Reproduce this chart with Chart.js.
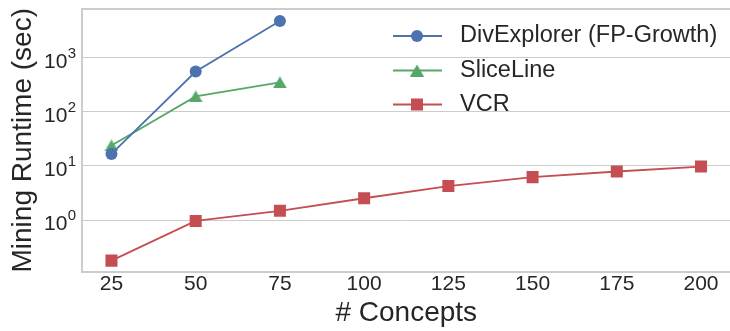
<!DOCTYPE html>
<html><head><meta charset="utf-8">
<script src="https://cdn.jsdelivr.net/npm/chart.js@4"></script>
<style>html,body{margin:0;padding:0;background:#fff;overflow:hidden;width:730px;height:331px}canvas{display:block}</style>
</head><body>
<canvas id="c" width="739" height="331"></canvas>
<script>
const concepts = [25, 50, 75, 100, 125, 150, 175, 200];
const xTicks = [25, 50, 75, 100, 125, 150, 175, 200];
const yTickPowers = [0, 1, 2, 3];
const seriesNames = ['DivExplorer (FP-Growth)', 'SliceLine', 'VCR'];
const divExplorer = [16.7, 561, 4830];
const sliceLine = [24.0, 194, 353];
const vcr = [0.177, 0.96, 1.48, 2.53, 4.25, 6.22, 7.91, 9.77];
const xLabel = '# Concepts';
const yLabel = 'Mining Runtime (sec)';

const FONT = "'Liberation Sans', Arial, sans-serif";
const TEXT = '#262626';
const GRID = '#cccccc';
const BLUE = '#4C72B0', GREEN = '#55A868', RED = '#C44E52';

function triangleImage(color) {
  const cv = document.createElement('canvas');
  cv.width = 14; cv.height = 12;
  const c = cv.getContext('2d');
  c.fillStyle = color;
  c.beginPath(); c.moveTo(7, 0); c.lineTo(14, 12); c.lineTo(0, 12); c.closePath(); c.fill();
  return cv;
}
const tri = triangleImage(GREEN);

function pts(vals) { return vals.map((v, i) => ({ x: concepts[i], y: v })); }

const yTickLabels = {
  id: 'yTickLabels',
  afterDraw(chart) {
    const s = chart.scales.y, ctx = chart.ctx;
    ctx.save();
    ctx.fillStyle = TEXT; ctx.textBaseline = 'alphabetic'; ctx.textAlign = 'right';
    yTickPowers.forEach(p => {
      const y = s.getPixelForValue(Math.pow(10, p));
      ctx.font = '15px ' + FONT;
      const e = String(p);
      const ew = ctx.measureText(e).width;
      ctx.fillText(e, 76, y - 0.3);
      ctx.font = '21px ' + FONT;
      ctx.fillText('10', 76 - ew - 0.3, y + 9.8);
    });
    ctx.restore();
  }
};

const lineLegend = {
  id: 'lineLegend',
  afterDraw(chart) {
    const ctx = chart.ctx;
    const rows = [36, 70.5, 104.5];
    chart.data.datasets.forEach((ds, i) => {
      const y = rows[i];
      ctx.save();
      ctx.strokeStyle = ds.borderColor; ctx.lineWidth = ds.borderWidth;
      ctx.beginPath(); ctx.moveTo(393, y); ctx.lineTo(442, y); ctx.stroke();
      ctx.fillStyle = ds.pointBackgroundColor;
      Chart.helpers.drawPoint(ctx, { pointStyle: ds.pointStyle, radius: ds.pointRadius, borderWidth: 0, rotation: 0 }, 417, y);
      ctx.fillStyle = TEXT; ctx.font = '23.5px ' + FONT;
      ctx.textAlign = 'left'; ctx.textBaseline = 'middle';
      ctx.fillText(ds.label, 460, y);
      ctx.restore();
    });
  }
};

new Chart(document.getElementById('c'), {
  type: 'line',
  data: {
    datasets: [
      { label: seriesNames[0], data: pts(divExplorer), borderColor: BLUE, backgroundColor: BLUE, pointBackgroundColor: BLUE, pointBorderWidth: 0, pointStyle: 'circle', pointRadius: 6, borderWidth: 1.8 },
      { label: seriesNames[1], data: pts(sliceLine), borderColor: GREEN, backgroundColor: GREEN, pointBackgroundColor: GREEN, pointBorderWidth: 0, pointStyle: tri, pointRadius: 7, borderWidth: 1.8 },
      { label: seriesNames[2], data: pts(vcr), borderColor: RED, backgroundColor: RED, pointBackgroundColor: RED, pointBorderWidth: 0, pointStyle: 'rect', pointRadius: 8.5, borderWidth: 1.8 }
    ]
  },
  options: {
    responsive: false, animation: false, devicePixelRatio: 1,
    layout: { padding: 0 },
    plugins: { legend: { display: false }, tooltip: { enabled: false } },
    scales: {
      x: {
        type: 'linear', position: 'bottom', min: 16.25, max: 208.75,
        afterBuildTicks: s => { s.ticks = xTicks.map(v => ({ value: v })); },
        afterFit: s => { s.height = 59; },
        grid: { display: false, drawTicks: false },
        border: { display: true, color: GRID, width: 2 },
        ticks: { color: TEXT, font: { family: FONT, size: 21 }, padding: 0, maxRotation: 0, autoSkip: false, callback: v => String(v) },
        title: { display: true, text: xLabel, color: TEXT, font: { family: FONT, size: 28 }, padding: { top: 0, bottom: 1.2 } }
      },
      x2: {
        type: 'linear', position: 'top', min: 16.25, max: 208.75,
        afterFit: s => { s.height = 5; },
        grid: { display: false, drawTicks: false },
        ticks: { display: false },
        border: { display: true, color: GRID, width: 2 }
      },
      y: {
        type: 'logarithmic', min: 0.109, max: 8240,
        afterBuildTicks: s => { s.ticks = yTickPowers.map(p => ({ value: Math.pow(10, p) })); },
        afterFit: s => { s.width = 82; },
        grid: { display: true, color: GRID, lineWidth: 1, drawTicks: false },
        border: { display: true, color: GRID, width: 2 },
        ticks: { display: false },
        title: { display: true, text: yLabel, color: TEXT, font: { family: FONT, size: 28 }, padding: { top: 6.8, bottom: 0 } }
      }
    }
  },
  plugins: [yTickLabels, lineLegend]
});
</script>
</body></html>
